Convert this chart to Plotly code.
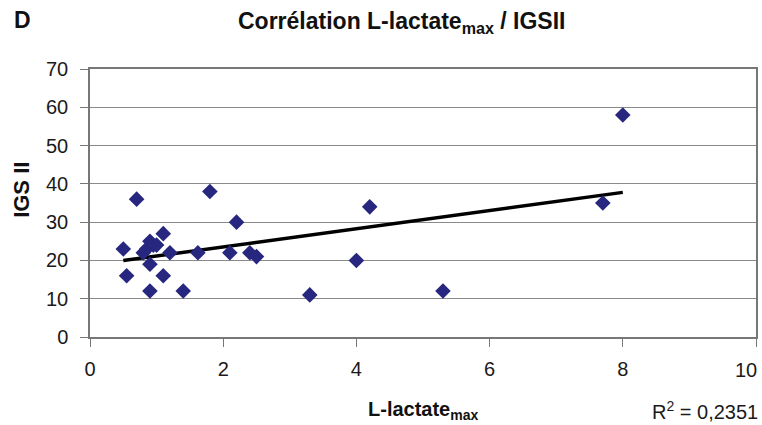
import numpy as np
import plotly.graph_objects as go

# L-lactate max vs IGS II score
lactate_max = [0.5, 0.55, 0.7, 0.8, 0.85, 0.9, 0.95, 1.0, 0.9, 0.9, 1.1, 1.1, 1.2,
               1.4, 1.62, 1.8, 2.1, 2.2, 2.4, 2.5, 3.3, 4.0, 4.2, 5.3, 7.7, 8.0]
igs_ii = [23, 16, 36, 22, 23, 25, 24, 24, 19, 12, 27, 16, 22,
          12, 22, 38, 22, 30, 22, 21, 11, 20, 34, 12, 35, 58]

x_ticks = [0, 2, 4, 6, 8, 10]
y_ticks = [0, 10, 20, 30, 40, 50, 60, 70]
r2_label = "R<sup>2</sup> = 0,2351"

# Linear least-squares trend line over the observed range
slope, intercept = np.polyfit(lactate_max, igs_ii, 1)
fit_x = [min(lactate_max), max(lactate_max)]
fit_y = [slope * v + intercept for v in fit_x]

fig = go.Figure()
fig.add_trace(go.Scatter(
    x=fit_x, y=fit_y, mode="lines",
    line=dict(color="black", width=3.5), hoverinfo="skip", showlegend=False,
))
fig.add_trace(go.Scatter(
    x=lactate_max, y=igs_ii, mode="markers",
    marker=dict(symbol="diamond", size=12, color="#27277f"),
    showlegend=False,
))

FONT = "Liberation Sans, Arial, sans-serif"
axis_font = dict(family=FONT, size=20, color="#1a1a1a")

# The last x tick label sits at the page edge, so it is right-aligned to the tick
x_tick_text = [str(v) for v in x_ticks[:-1]] + [""]
fig.update_xaxes(
    range=[0, 10], tickvals=x_ticks, ticktext=x_tick_text, showgrid=False, zeroline=False,
    showline=True, linecolor="#777", linewidth=1.5, mirror=True,
    ticks="outside", ticklen=8, tickcolor="#777", tickfont=axis_font,
    ticklabelstandoff=5, automargin=False,
)
fig.update_yaxes(
    range=[0, 70], tickvals=y_ticks, showgrid=True, gridcolor="#8a8a8a", gridwidth=1,
    zeroline=False, showline=True, linecolor="#777", linewidth=1.5, mirror=True,
    ticks="outside", ticklen=8, tickcolor="#777", tickfont=axis_font,
    ticklabelstandoff=8, automargin=False,
)

bold = dict(family=FONT, size=20, color="#111")
fig.update_layout(
    width=762, height=425,
    margin=dict(l=90, r=6, t=69, b=88),
    paper_bgcolor="white", plot_bgcolor="white",
    font=dict(family=FONT),
    annotations=[
        dict(text=str(x_ticks[-1]), xref="x", yref="paper", x=x_ticks[-1], y=0,
             xshift=3, yshift=-33, showarrow=False, font=axis_font,
             xanchor="right", yanchor="middle"),
        dict(text="<b>Corrélation L-lactate<sub>max</sub> / IGSII</b>",
             xref="paper", yref="paper", x=0.468, y=1, yshift=47,
             showarrow=False, font=dict(bold, size=23), xanchor="center", yanchor="middle"),
        dict(text="<b>D</b>", xref="paper", yref="paper", x=0, xshift=-68, y=1, yshift=49,
             showarrow=False, font=dict(bold, size=23), xanchor="center", yanchor="middle"),
        dict(text="<b>L-lactate<sub>max</sub></b>", xref="paper", yref="paper",
             x=0.5, y=0, yshift=-73, showarrow=False, font=bold,
             xanchor="center", yanchor="middle"),
        dict(text="<b>IGS II</b>", xref="paper", yref="paper", x=0, xshift=-68,
             y=0.549, showarrow=False, font=dict(bold, size=22), textangle=-90,
             xanchor="center", yanchor="middle"),
        dict(text=r2_label, xref="paper", yref="paper", x=1, xshift=4, y=0, yshift=-73,
             showarrow=False, font=dict(family=FONT, size=20, color="#1a1a1a"),
             xanchor="right", yanchor="middle"),
    ],
)

fig.write_html("out.html")
